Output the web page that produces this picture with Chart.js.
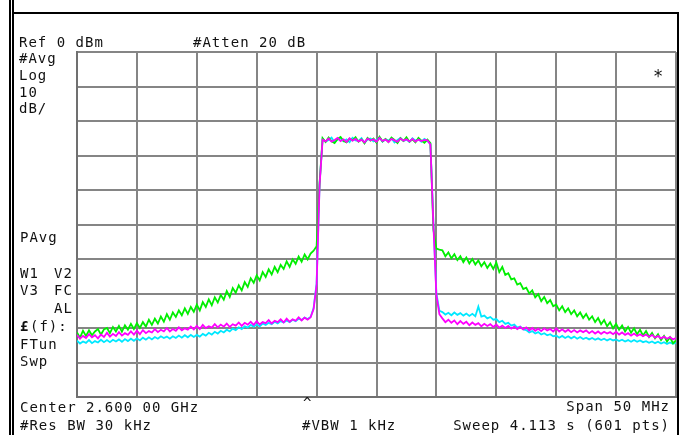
<!DOCTYPE html>
<html>
<head>
<meta charset="utf-8">
<script src="https://cdn.jsdelivr.net/npm/chart.js@4.4.1/dist/chart.umd.min.js"></script>
<style>
    body { margin: 0; background: #fff; }
    #wrap { position: relative; width: 679px; height: 435px; }
</style>
</head>
<body>
<div id="wrap"><canvas id="spectrumChart" width="679" height="435"></canvas></div>
<script>
// sweep: center 2600 MHz, span 50 MHz, 0.25 MHz per point
const startFreq = 2575
const freqStep = 0.25

const greenTrace = [
    -81.3, -82.8, -80.8, -82.3, -80.7, -82.1, -81.0, -80.3, -81.9, -80.4,
    -80.0, -81.5, -79.7, -81.0, -79.4, -81.1, -79.2, -80.5, -78.8, -80.3,
    -78.6, -80.0, -78.3, -79.6, -77.6, -79.1, -77.3, -78.7, -76.7, -78.2,
    -76.0, -77.6, -75.5, -76.8, -74.9, -76.3, -74.3, -75.9, -73.9, -75.3,
    -73.2, -74.9, -72.5, -73.9, -71.7, -73.4, -71.1, -72.6, -70.4, -71.8,
    -69.3, -71.0, -68.4, -69.8, -67.6, -69.1, -66.7, -68.1, -65.6, -66.9,
    -64.7, -66.2, -63.8, -65.2, -63.0, -64.5, -62.3, -63.8, -61.7, -62.9,
    -60.7, -62.3, -60.1, -61.4, -59.3, -60.8, -58.7, -60.1,
    -58.4, -57.6, -56.3, -38.0,
    -25.0, -26.1, -24.8, -25.9, -26.4, -25.2, -24.6, -25.8, -26.2, -25.1,
    -25.6, -24.7, -26.0, -25.3, -26.5, -24.9, -25.7, -25.1, -26.3, -24.6,
    -25.9, -25.2, -26.1, -24.8, -25.5, -26.4, -25.0, -25.8, -24.7, -26.0,
    -25.3, -26.2, -24.9, -25.7, -26.3, -25.4,
    -26.4, -51.5, -57.0, -57.3,
    -57.5, -59.2, -58.1, -59.8, -58.6, -60.3, -59.2, -60.9, -59.6, -61.3,
    -60.0, -61.6, -60.4, -62.1, -60.9, -62.6, -61.3, -62.9,
    -61.0, -63.8, -62.3, -64.6, -64.1, -65.9, -65.6, -67.4, -67.0, -68.7,
    -68.3, -70.0, -69.1, -71.1, -70.2, -72.2, -71.0, -72.8, -71.9, -73.7,
    -73.2, -74.9, -73.7, -75.4, -74.3, -76.0, -74.9, -76.6, -75.5, -77.1,
    -75.9, -77.6, -76.6, -78.3, -77.1, -78.9, -77.7, -79.5, -78.3, -80.1,
    -78.8, -80.5, -79.3, -81.0, -79.7, -81.4, -80.1, -81.8, -80.5, -82.2,
    -80.9, -82.6, -81.4, -83.0, -81.8, -83.5, -82.3, -83.9, -82.7, -84.4, -83.6
]

const magentaTrace = [
    -82.0, -83.1, -82.3, -82.9, -81.8, -82.7, -82.1, -83.0, -81.9, -82.6,
    -81.4, -82.5, -81.7, -82.3, -81.2, -82.2, -81.5, -82.0, -81.0, -81.9,
    -80.8, -81.8, -80.6, -81.5, -80.9, -81.3, -80.3, -81.2, -80.5, -81.0,
    -80.0, -81.0, -80.3, -80.8, -79.8, -80.7, -80.1, -80.5, -79.6, -80.4,
    -79.4, -80.3, -79.1, -80.0, -79.5, -79.9, -78.9, -79.8, -79.0, -79.6,
    -78.7, -79.7, -78.9, -79.3, -78.4, -79.4, -78.5, -79.0, -78.2, -79.1,
    -78.0, -79.0, -78.3, -78.6, -77.7, -78.7, -77.9, -78.3, -77.5, -78.4,
    -77.3, -78.2, -77.5, -77.9, -76.9, -77.8, -77.0, -77.6,
    -76.9, -74.5, -67.5, -38.5,
    -25.4, -25.9, -25.1, -26.0, -25.5, -24.9, -25.8, -25.3, -26.1, -25.0,
    -25.7, -25.2, -25.9, -25.4, -26.2, -25.1, -25.6, -25.3, -26.0, -24.9,
    -25.8, -25.4, -26.1, -25.2, -25.6, -26.0, -25.1, -25.7, -25.3, -25.9,
    -25.2, -26.0, -25.4, -25.8, -25.5, -25.6,
    -26.8, -50.0, -70.5, -76.0,
    -77.2, -78.3, -77.6, -78.5, -77.8, -78.9, -78.0, -78.8, -78.2, -79.2,
    -78.4, -79.1, -78.6, -79.5, -78.8, -79.4, -78.9, -79.7,
    -79.0, -79.9, -79.3, -80.0, -79.4, -80.2, -79.6, -80.3, -79.7, -80.4,
    -79.8, -80.7, -80.0, -80.8, -80.2, -80.9, -80.1, -80.7, -80.3, -81.0,
    -80.1, -81.0, -80.4, -81.1, -80.5, -81.2, -80.6, -81.3, -80.7, -81.2,
    -80.7, -81.5, -80.9, -81.6, -81.0, -81.7, -81.1, -81.6, -81.2, -81.8,
    -81.1, -81.9, -81.3, -82.0, -81.5, -82.2, -81.6, -82.3, -81.8, -82.4,
    -81.9, -82.6, -82.0, -82.8, -82.3, -83.0, -82.5, -83.1, -82.6, -83.3, -82.9
]

const cyanTrace = [
    -83.7, -84.5, -83.9, -84.3, -83.5, -84.4, -83.8, -84.2, -83.4, -84.1,
    -83.5, -84.1, -83.4, -83.9, -83.3, -84.0, -83.2, -83.8, -83.1, -83.7,
    -83.0, -83.6, -82.8, -83.4, -82.7, -83.3, -82.6, -83.1, -82.4, -82.9,
    -82.5, -83.1, -82.4, -82.9, -82.2, -82.8, -82.1, -82.7, -82.0, -82.6,
    -82.0, -82.5, -81.7, -82.2, -81.4, -81.9, -81.1, -81.6, -80.8, -81.3,
    -80.5, -81.0, -80.2, -80.6, -79.8, -80.3, -79.5, -79.9, -79.1, -79.6,
    -79.0, -79.5, -78.7, -79.1, -78.5, -78.9, -78.2, -78.7, -78.0, -78.4,
    -77.8, -78.3, -77.6, -78.0, -77.3, -77.7, -77.0, -77.4,
    -76.8, -74.2, -67.0, -38.2,
    -25.2, -26.0, -25.5, -24.8, -26.2, -25.4, -25.0, -25.9, -25.3, -26.1,
    -24.9, -25.6, -25.8, -25.0, -26.3, -25.4, -25.1, -25.9, -25.5, -24.8,
    -26.0, -25.3, -25.7, -25.0, -26.2, -25.5, -24.9, -25.8, -25.4, -26.1,
    -25.0, -25.7, -25.3, -26.0, -25.2, -25.8,
    -26.6, -49.5, -70.0, -75.0,
    -75.4, -76.1, -75.6, -76.3, -75.5, -76.2, -75.7, -76.4, -75.8, -76.5,
    -75.9, -76.6, -73.8, -76.7, -76.4, -77.2, -76.8, -77.6,
    -77.4, -78.3, -77.9, -78.8, -78.5, -79.3, -79.0, -79.9, -79.6, -80.4,
    -80.6, -81.3, -80.9, -81.6, -81.2, -81.9, -81.5, -82.1, -81.8, -82.4,
    -82.2, -82.8, -82.3, -82.9, -82.4, -83.0, -82.5, -83.1, -82.6, -83.2,
    -82.8, -83.3, -82.9, -83.4, -83.0, -83.5, -83.1, -83.6, -83.2, -83.6,
    -83.3, -83.8, -83.4, -83.9, -83.5, -84.0, -83.5, -84.0, -83.6, -84.1,
    -83.8, -84.3, -83.9, -84.4, -84.0, -84.5, -84.1, -84.6, -84.2, -84.6, -84.3
]

const freqLabels = greenTrace.map((v, i) => startFreq + i * freqStep)

// annotation text: [text, x, baseline, align]
const screenTexts = [
    ['Ref 0 dBm', 19, 46.5, 'left'],
    ['#Atten 20 dB', 193, 46.5, 'left'],
    ['#Avg', 19, 63, 'left'],
    ['Log', 19, 80, 'left'],
    ['10', 19, 97, 'left'],
    ['dB/', 19, 113, 'left'],
    ['PAvg', 20, 241.5, 'left'],
    ['W1', 20, 277.5, 'left'],
    ['V2', 54, 277.5, 'left'],
    ['V3', 20, 295, 'left'],
    ['FC', 54, 295, 'left'],
    ['AL', 54, 312.5, 'left'],
    ['(f):', 30, 330.5, 'left'],
    ['FTun', 20, 349, 'left'],
    ['Swp', 20, 366, 'left'],
    ['Center 2.600 00 GHz', 20, 412, 'left'],
    ['#Res BW 30 kHz', 20, 430, 'left'],
    ['^', 303, 408, 'left'],
    ['Span 50 MHz', 670, 411, 'right'],
    ['#VBW 1 kHz', 302, 430, 'left'],
    ['Sweep 4.113 s (601 pts)', 670, 430, 'right']
]

const screenPlugin = {
    id: 'screen',
    afterDraw(chart) {
        let ctx = chart.ctx
        ctx.save()
        // instrument frame
        ctx.fillStyle = '#000'
        ctx.fillRect(9, 0, 2, 435)
        ctx.fillRect(12, 0, 2, 435)
        ctx.fillRect(12, 12, 667, 2)
        ctx.fillRect(677, 12, 2, 423)

        ctx.fillStyle = '#111'
        ctx.font = '14px "DejaVu Sans Mono", monospace'
        if ('letterSpacing' in ctx) ctx.letterSpacing = '1px'
        ctx.textBaseline = 'alphabetic'
        screenTexts.forEach(function (t) {
            ctx.textAlign = t[3]
            ctx.fillText(t[0], t[1], t[2])
        })
        ctx.textAlign = 'left'
        ctx.font = 'bold 14px "DejaVu Sans Mono", monospace'
        ctx.fillText('£', 20, 330.5)
        ctx.font = '17px "DejaVu Sans Mono", monospace'
        ctx.fillText('*', 653, 82)
        ctx.restore()
    }
}

function traceSet (label, data, color) {
    return {
        label: label,
        data: data,
        borderColor: color,
        borderWidth: 1.8,
        pointRadius: 0,
        tension: 0,
        fill: false,
    }
}

let ctx = document.getElementById('spectrumChart')
new Chart(ctx, {
    type: 'line',
    data: {
        labels: freqLabels,
        datasets: [
            traceSet('Trace 3', magentaTrace, '#ff00ff'),
            traceSet('Trace 1', greenTrace, '#00ee00'),
            traceSet('Trace 2', cyanTrace, '#00e8ff'),
        ],
    },
    options: {
        responsive: false,
        animation: false,
        layout: { padding: { left: 77, top: 52, right: 3, bottom: 38 } },
        plugins: { legend: { display: false }, tooltip: { enabled: false } },
        scales: {
            x: {
                type: 'linear',
                min: 2575,
                max: 2625,
                ticks: { display: false, stepSize: 5 },
                grid: { color: '#858585', lineWidth: 2, drawTicks: false },
                border: { color: '#707070', width: 2 },
            },
            y: {
                min: -100,
                max: 0,
                ticks: { display: false, stepSize: 10 },
                grid: { color: '#858585', lineWidth: 2, drawTicks: false },
                border: { color: '#707070', width: 2 },
            },
        },
    },
    plugins: [screenPlugin],
})
</script>
</body>
</html>
